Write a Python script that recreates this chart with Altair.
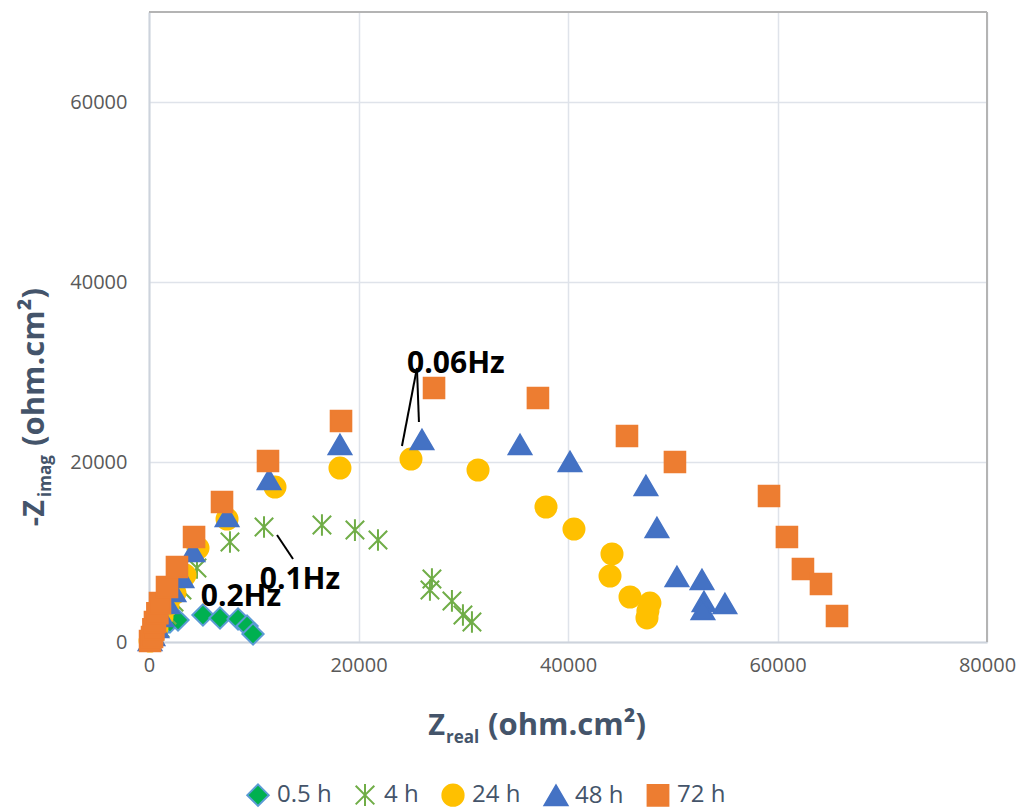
import altair as alt
import pandas as pd

# Nyquist data: Z_real and -Z_imag (ohm.cm2) for each immersion time
series_names = ["0.5 h", "4 h", "24 h", "48 h", "72 h"]

zr_05 = [290, 1050, 2000, 2770, 5150, 6780, 8500, 9360, 9930]
zi_05 = [220, 1330, 2220, 2440, 3000, 2670, 2560, 1780, 890]

zr_4 = [190, 570, 1050, 1720, 2390, 3150, 4580, 7730, 10980, 16510, 19660, 21860,
        27010, 26820, 28920, 29970, 30830]
zi_4 = [110, 670, 1560, 3000, 4440, 5780, 8220, 11110, 12780, 13000, 12440, 11330,
        7000, 5780, 4560, 3000, 2220]

zr_24 = [100, 380, 760, 1240, 1810, 2480, 3440, 4680, 7450, 12030, 18230, 25010,
         31410, 37900, 40570, 44200, 44010, 45920, 47820, 47630, 47540]
zi_24 = [110, 670, 1560, 2780, 4110, 5440, 7440, 10440, 13660, 17220, 19330, 20330,
         19110, 15000, 12550, 9780, 7330, 5000, 4330, 3440, 2670]

zr_48 = [100, 380, 760, 1240, 1810, 2390, 3150, 4200, 7450, 11460, 18230, 26060,
         35420, 40190, 47440, 48490, 50400, 52790, 52980, 52880, 54980]
zi_48 = [110, 670, 1560, 2780, 4220, 5560, 7110, 10000, 13890, 18000, 21890, 22440,
         21890, 20000, 17330, 12670, 7220, 6890, 4440, 3560, 4220]

zr_72 = [100, 290, 420, 570, 800, 1050, 1720, 2670, 4300, 6970, 11360, 18330, 27210,
         37130, 45630, 50210, 59190, 60900, 62430, 64150, 65680]
zi_72 = [110, 560, 1400, 2220, 3200, 4330, 6110, 8330, 11670, 15560, 20110, 24550,
         28220, 27110, 22890, 20000, 16220, 11670, 8110, 6440, 2890]

x_ticks = [0, 20000, 40000, 60000, 80000]
y_ticks = [0, 20000, 40000, 60000]

# Frequency annotations
ann_text = ["0.06Hz", "0.1Hz", "0.2Hz"]
ann_x = [29300, 14410, 8780]
ann_y = [30890, 6890, 5000]

# Leader lines for the annotations
lead_x = [25580, 25580, 12220]
lead_y = [30440, 30440, 11890]
lead_x2 = [24150, 25770, 13750]
lead_y2 = [21780, 24440, 9220]

fills = ["#00b050", "#70ad47", "#ffc000", "#4472c4", "#ed7d31"]
strokes = ["#5b9bd5", "#70ad47", "#ffc000", "#4472c4", "#ed7d31"]
# Marker outlines in the unit box [-1, 1]
shapes = [
    "M0,-0.98L0.98,0L0,0.98L-0.98,0Z",
    "M0,-1L0,1M-0.85,-0.85L0.85,0.85M-0.85,0.85L0.85,-0.85",
    "M0.97,0A0.97,0.97,0,1,1,-0.97,0A0.97,0.97,0,1,1,0.97,0Z",
    "M0,-0.95L1.05,0.85L-1.05,0.85Z",
    "M-0.95,-0.95L0.95,-0.95L0.95,0.95L-0.95,0.95Z",
]

rows = []
for name, xs, ys in zip(series_names,
                        [zr_05, zr_4, zr_24, zr_48, zr_72],
                        [zi_05, zi_4, zi_24, zi_48, zi_72]):
    for a, b in zip(xs, ys):
        rows.append({"series": name, "zr": a, "zi": b, "k": series_names.index(name)})
df = pd.DataFrame(rows)

W, H = 838, 630
ox, oy = 149, 12
TITLE_COLOR = "#44546a"
FONT = "Open Sans"

x_enc = alt.X("zr:Q", scale=alt.Scale(domain=[0, 80000], nice=False),
              axis=alt.Axis(values=x_ticks, format="d", title=None, grid=True,
                            ticks=False, labelPadding=13, labelFlush=False,
                            labelOverlap=False))
y_enc = alt.Y("zi:Q", scale=alt.Scale(domain=[0, 70000], nice=False),
              axis=alt.Axis(values=y_ticks, format="d", title=None, grid=True,
                            ticks=False, labelPadding=22, labelOverlap=False))

points = alt.Chart(df).mark_point(filled=True, opacity=1, strokeWidth=2,
                                  size=470).encode(
    x=x_enc,
    y=y_enc,
    fill=alt.Fill("series:N", scale=alt.Scale(domain=series_names, range=fills),
                  title=None),
    stroke=alt.Stroke("series:N", scale=alt.Scale(domain=series_names, range=strokes),
                      title=None),
    shape=alt.Shape("series:N", scale=alt.Scale(domain=series_names, range=shapes),
                    title=None),
    order=alt.Order("k:Q"),
)

lead_df = pd.DataFrame({"x": lead_x, "y": lead_y, "x2": lead_x2, "y2": lead_y2})
leaders = alt.Chart(lead_df).mark_rule(color="black", strokeWidth=2).encode(
    x="x:Q", y="y:Q", x2="x2:Q", y2="y2:Q")

ann_df = pd.DataFrame({"t": ann_text, "x": ann_x, "y": ann_y})
labels = alt.Chart(ann_df).mark_text(font=FONT, fontSize=30, fontWeight="bold",
                                     color="black", baseline="middle").encode(
    x="x:Q", y="y:Q", text="t:N")

# Plot frame (top and right edges)
one = pd.DataFrame({"v": [0]})
frame_top = alt.Chart(one).mark_rule(color="#b4b4b4", strokeWidth=2).encode(
    x=alt.value(0), x2=alt.value(W), y=alt.value(0))
frame_right = alt.Chart(one).mark_rule(color="#b4b4b4", strokeWidth=2).encode(
    x=alt.value(W), y=alt.value(0), y2=alt.value(H))


def piece(txt, px, py, size, align, angle=0):
    return alt.Chart(one).mark_text(text=txt, font=FONT, fontSize=size,
                                    fontWeight="bold", color=TITLE_COLOR,
                                    align=align, baseline="alphabetic",
                                    angle=angle).encode(
        x=alt.value(px - ox), y=alt.value(py - oy))


x_title = [
    piece("Z", 445, 735, 29, "right"),
    piece("real", 446, 743, 17, "left"),
    piece("(ohm.cm²)", 488, 735, 31, "left"),
]
y_title = [
    piece("-Z", 44, 500, 29, "right", 270),
    piece("imag", 51, 497, 17, "left", 270),
    piece("(ohm.cm²)", 44, 446, 31, "left", 270),
]

chart = alt.layer(frame_top, frame_right, points, leaders, labels,
                  *x_title, *y_title).properties(
    width=W, height=H,
    autosize=alt.AutoSizeParams(type="none"),
    padding={"left": ox, "top": oy, "right": 1020 - ox - W, "bottom": 811 - oy - H},
).configure_view(stroke=None).configure_axis(
    labelFont=FONT, labelFontSize=20, labelColor="#595959",
    gridColor="#dfe3ea", gridWidth=1.5,
    domainColor="#cdd3dc", domainWidth=2,
).configure_legend(
    orient="none", direction="horizontal", legendX=97, legendY=771,
    labelFont=FONT, labelFontSize=24, labelColor=TITLE_COLOR,
    symbolSize=480, symbolStrokeWidth=2, labelOffset=7,
    columnPadding=19, labelLimit=0,
)

chart.save("out.html", embed_options={"renderer": "svg", "actions": False})
